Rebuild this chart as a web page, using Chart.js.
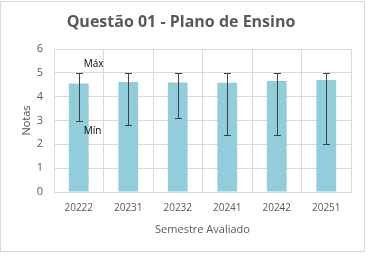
<!DOCTYPE html>
<html><head><meta charset="utf-8">
<script src="https://cdn.jsdelivr.net/npm/chart.js@4/dist/chart.umd.min.js"></script>
<style>html,body{margin:0;padding:0;background:#fff}#w{width:368px;height:256px;position:relative}</style>
</head><body><div id="w"><canvas id="c" width="368" height="256"></canvas></div>
<script>
const categories = ["20222","20231","20232","20241","20242","20251"];
const notas = [4.55, 4.62, 4.59, 4.58, 4.66, 4.70];
const minimos = [3.0, 2.8, 3.1, 2.4, 2.4, 2.0];
const maximos = [5, 5, 5, 5, 5, 5];
const yTicks = [0,1,2,3,4,5,6];
const chartTitle = 'Questão 01 - Plano de Ensino';

const FONT = "'Open Sans', sans-serif";
const errorBars = {
  id: 'errorBars',
  beforeDraw(chart) {
    const ctx = chart.ctx;
    ctx.save();
    ctx.strokeStyle = '#d9d9d9';
    ctx.lineWidth = 1;
    ctx.strokeRect(0.5, 1.5, 364, 250);
    ctx.fillStyle = '#595959';
    ctx.font = "bold 16px " + FONT;
    ctx.textAlign = 'center';
    ctx.textBaseline = 'middle';
    ctx.fillText(chartTitle, 181, 22);
    ctx.restore();
  },
  afterDatasetsDraw(chart) {
    const ctx = chart.ctx, y = chart.scales.y;
    const meta = chart.getDatasetMeta(0);
    ctx.save();
    ctx.strokeStyle = '#404040';
    ctx.lineWidth = 1;
    meta.data.forEach((bar, i) => {
      const x = Math.round(bar.x) + 0.5;
      const y1 = Math.round(y.getPixelForValue(maximos[i])) + 0.5;
      const y2 = Math.round(y.getPixelForValue(minimos[i])) + 0.5;
      ctx.beginPath();
      ctx.moveTo(x, y1); ctx.lineTo(x, y2);
      ctx.moveTo(x - 3.5, y1); ctx.lineTo(x + 3.5, y1);
      ctx.moveTo(x - 3.5, y2); ctx.lineTo(x + 3.5, y2);
      ctx.stroke();
    });
    const b0 = meta.data[0];
    ctx.fillStyle = '#000';
    ctx.font = "10px " + FONT;
    ctx.textAlign = 'left';
    ctx.textBaseline = 'middle';
    ctx.fillText('Máx', b0.x + 5, y.getPixelForValue(maximos[0]) - 9);
    ctx.fillText('Mín', b0.x + 5, y.getPixelForValue(minimos[0]) + 11);
    ctx.restore();
  }
};

new Chart(document.getElementById('c'), {
  type: 'bar',
  data: { labels: categories, datasets: [{ data: notas, backgroundColor: '#92cddc', barPercentage: 0.4, categoryPercentage: 1 }] },
  options: {
    responsive: false, animation: false, devicePixelRatio: 1,
    layout: { padding: { left: 20, right: 17, top: 49, bottom: 16 } },
    plugins: {
      legend: { display: false }, tooltip: { enabled: false }, title: { display: false }
    },
    scales: {
      x: {
        afterFit(s) { s.height = 48; },
        grid: { color: '#d9d9d9', offset: true, drawTicks: false },
        border: { color: '#d9d9d9' },
        ticks: { color: '#595959', font: { family: FONT, size: 10 }, padding: 10 },
        title: { display: true, text: 'Semestre Avaliado', color: '#595959', font: { family: FONT, size: 11 }, padding: { top: 6 } }
      },
      y: {
        min: 0, max: 6,
        afterFit(s) { s.width = 34; },
        afterBuildTicks(s) { s.ticks = yTicks.map(v => ({ value: v })); },
        grid: { color: '#d9d9d9', drawTicks: false },
        border: { display: false },
        ticks: { color: '#595959', font: { family: FONT, size: 11 }, padding: 11 },
        title: { display: true, text: 'Notas', color: '#595959', font: { family: FONT, size: 11 }, padding: { top: 0, bottom: 0 } }
      }
    }
  },
  plugins: [errorBars]
});
</script></body></html>
